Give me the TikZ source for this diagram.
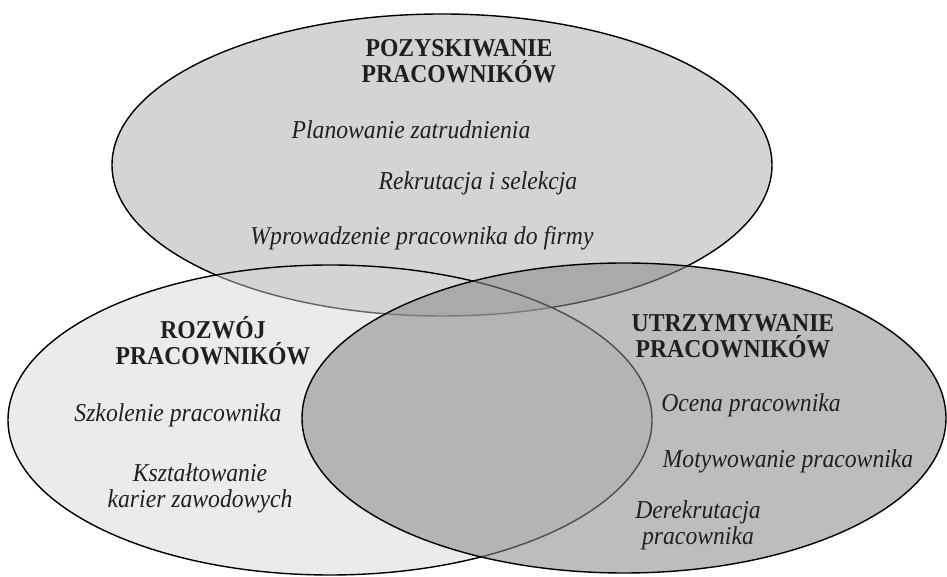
\documentclass[tikz,border=0pt]{standalone}
\usepackage{fontspec}
\setmainfont{Liberation Serif}[FakeStretch=0.92]
\usepackage{tikz}

\begin{document}
\begin{tikzpicture}[x=0.025cm, y=0.025cm,
	every node/.style={font=\fontsize{18.3}{18.5}\selectfont, text=black!88},
	head/.style={font=\fontsize{18.3}{18.5}\selectfont\bfseries, align=center, anchor=base},
	item/.style={font=\fontsize{18.3}{18.5}\selectfont\itshape, align=center, anchor=base}]
	\useasboundingbox (0,0) rectangle (947,577);
	% three areas of personnel work
	\filldraw[line width=1pt, fill=black!17] (442,412) ellipse [x radius=330, y radius=151];
	\filldraw[line width=1pt, fill=black!17, fill opacity=0.47] (330,157) ellipse [x radius=322, y radius=155];
	\filldraw[line width=1pt, fill=black!46, fill opacity=0.56] (624,159) ellipse [x radius=322, y radius=155];
	% top set
	\node[head] (pozysk) at (459,494) {POZYSKIWANIE\\PRACOWNIKÓW};
	\node[item] (planow) at (411,438) {Planowanie zatrudnienia};
	\node[item] (rekrut) at (478,387) {Rekrutacja i selekcja};
	\node[item] (wprow) at (422,332) {Wprowadzenie pracownika do firmy};
	% left set
	\node[head] (rozwoj) at (213,212) {ROZWÓJ\\PRACOWNIKÓW};
	\node[item] (szkol) at (178,155) {Szkolenie pracownika};
	\node[item] (kariery) at (200,69) {Kształtowanie\\karier zawodowych};
	% right set
	\node[head] (utrzym) at (733,219) {UTRZYMYWANIE\\PRACOWNIKÓW};
	\node[item] (ocena) at (751,165) {Ocena pracownika};
	\node[item] (motyw) at (788,109) {Motywowanie pracownika};
	\node[item] (derekr) at (698,32) {Derekrutacja\\pracownika};
\end{tikzpicture}
\end{document}
